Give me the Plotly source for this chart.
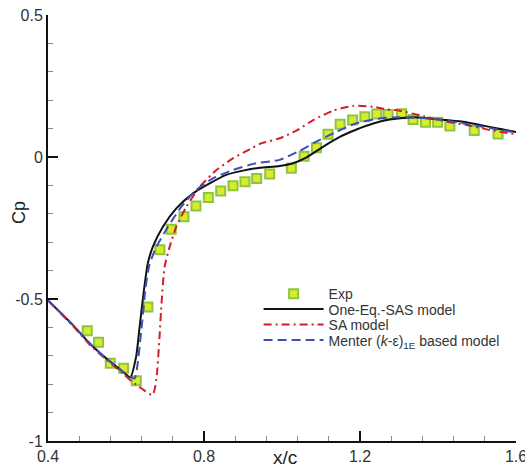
import plotly.graph_objects as go

# Experimental pressure coefficient
exp_x = [0.5006, 0.5296, 0.5597, 0.5938, 0.6264, 0.6562, 0.687, 0.716, 0.7486, 0.7794,
         0.8112, 0.8428, 0.8744, 0.905, 0.935, 0.9685, 1.024, 1.0566, 1.0884, 1.118,
         1.149, 1.181, 1.2124, 1.243, 1.272, 1.3066, 1.336, 1.368, 1.399, 1.4305,
         1.493, 1.554]
exp_cp = [-0.612, -0.6525, -0.726, -0.744, -0.788, -0.528, -0.327, -0.254, -0.210, -0.1725,
          -0.143, -0.12, -0.101, -0.087, -0.076, -0.06, -0.04, 0.003, 0.033, 0.08,
          0.115, 0.130, 0.142, 0.151, 0.15, 0.152, 0.132, 0.122, 0.122, 0.109,
          0.093, 0.081]

# One-Eq.-SAS model
sas_x = [0.40, 0.464, 0.5065, 0.549, 0.592, 0.611, 0.626, 0.635, 0.645, 0.656, 0.669,
         0.695, 0.729, 0.772, 0.8145, 0.857, 0.90, 0.943, 0.994, 1.028, 1.063, 1.105,
         1.148, 1.191, 1.234, 1.2765, 1.336, 1.379, 1.422, 1.465, 1.5075, 1.55, 1.60]
sas_cp = [-0.505, -0.592, -0.656, -0.709, -0.756, -0.776, -0.703, -0.597, -0.48, -0.374, -0.316,
          -0.245, -0.181, -0.128, -0.093, -0.063, -0.048, -0.038, -0.032, -0.022, -0.001, 0.036,
          0.071, 0.097, 0.118, 0.132, 0.14, 0.136, 0.13, 0.124, 0.113, 0.101, 0.088]

# SA model
sa_x = [0.40, 0.464, 0.5065, 0.549, 0.592, 0.615, 0.64, 0.668, 0.678, 0.686, 0.69, 0.699,
        0.712, 0.729, 0.755, 0.789, 0.832, 0.874, 0.917, 0.943, 0.994, 1.037, 1.08, 1.131,
        1.182, 1.234, 1.268, 1.302, 1.362, 1.422, 1.473, 1.533, 1.60]
sa_cp = [-0.505, -0.595, -0.66, -0.713, -0.762, -0.79, -0.815, -0.838, -0.78, -0.633, -0.539, -0.386,
         -0.316, -0.245, -0.175, -0.105, -0.046, -0.005, 0.027, 0.046, 0.066, 0.093, 0.130, 0.163,
         0.18, 0.177, 0.168, 0.163, 0.144, 0.124, 0.113, 0.095, 0.08]

# Menter (k-eps)1E based model
men_x = [0.40, 0.464, 0.5065, 0.549, 0.592, 0.611, 0.622, 0.639, 0.65, 0.66, 0.678, 0.708,
         0.742, 0.78, 0.823, 0.874, 0.934, 0.994, 1.041, 1.088, 1.14, 1.191, 1.251, 1.30,
         1.35, 1.40, 1.45, 1.50, 1.55, 1.60]
men_cp = [-0.505, -0.592, -0.656, -0.709, -0.756, -0.772, -0.78, -0.615, -0.462, -0.38, -0.316, -0.245,
          -0.175, -0.116, -0.075, -0.046, -0.022, -0.01, 0.019, 0.054, 0.089, 0.119, 0.136, 0.14,
          0.138, 0.132, 0.122, 0.11, 0.098, 0.086]

# Axis ticks
x_tickvals = [0.4, 0.8, 1.2, 1.6]
x_ticktext = ["0.4", "0.8", "1.2", "1.6"]
y_tickvals = [-1, -0.5, 0, 0.5]
y_ticktext = ["-1", "-0.5", "0", "0.5"]

FONT = "Arial, Liberation Sans, sans-serif"

fig = go.Figure()

fig.add_trace(go.Scatter(
    x=exp_x, y=exp_cp, mode="markers", name="Exp", legend="legend",
    marker=dict(symbol="square", size=9, color="#d8ec2c",
                line=dict(color="#8cc63f", width=2))))
fig.add_trace(go.Scatter(
    x=sas_x, y=sas_cp, mode="lines", name="One-Eq.-SAS model", legend="legend2",
    line=dict(color="#111111", width=2, shape="spline", smoothing=0.6)))
fig.add_trace(go.Scatter(
    x=sa_x, y=sa_cp, mode="lines", name="SA model", legend="legend3",
    line=dict(color="#d21f26", width=2, dash="8px,4px,2px,4px", shape="spline", smoothing=0.6)))
fig.add_trace(go.Scatter(
    x=men_x, y=men_cp, mode="lines", name="Menter (<i>k</i>-ε)<sub>1E</sub> based model",
    legend="legend4",
    line=dict(color="#3d4fb8", width=2, dash="9px,5px", shape="spline", smoothing=0.6)))

axis_common = dict(
    showgrid=False, zeroline=False, showline=True, linecolor="#111111", linewidth=2,
    ticks="inside", ticklen=10, tickwidth=2, tickcolor="#111111",
    tickfont=dict(family=FONT, size=16, color="#333333"),
    mirror=False, automargin=False, ticklabeloverflow="allow",
)

fig.update_xaxes(
    range=[0.4, 1.6], tickmode="array", tickvals=x_tickvals, ticktext=x_ticktext,
    minor=dict(ticks="inside", ticklen=5, tickwidth=1, tickcolor="#888888", dtick=0.08, tick0=0.4),
    **axis_common)
fig.update_yaxes(
    range=[-1, 0.5], tickmode="array", tickvals=y_tickvals, ticktext=y_ticktext,
    minor=dict(ticks="inside", ticklen=5, tickwidth=1, tickcolor="#888888", dtick=0.1, tick0=-1),
    **axis_common)

fig.add_annotation(
    text="Cp", xref="paper", yref="paper", x=0, y=0.5, xanchor="center", yanchor="middle",
    xshift=-29, yshift=15, textangle=-90, showarrow=False,
    font=dict(family=FONT, size=18, color="#222222"))
fig.add_annotation(
    text="x/c", xref="paper", yref="paper", x=0.5, y=0, xanchor="center", yanchor="middle",
    xshift=3, yshift=-16, showarrow=False,
    font=dict(family=FONT, size=19, color="#222222"))

legend_style = dict(
    x=0.45, xanchor="left", yanchor="middle",
    bgcolor="rgba(0,0,0,0)", borderwidth=0, itemwidth=60,
    font=dict(family=FONT, size=14, color="#333333"),
)

fig.update_layout(
    width=525, height=468,
    margin=dict(l=48, r=9, t=15, b=27),
    paper_bgcolor="white", plot_bgcolor="white",
    showlegend=True,
    legend=dict(y=0.345, **legend_style),
    legend2=dict(y=0.3087, **legend_style),
    legend3=dict(y=0.2723, **legend_style),
    legend4=dict(y=0.2359, **legend_style),
)

fig.write_html("out.html")
